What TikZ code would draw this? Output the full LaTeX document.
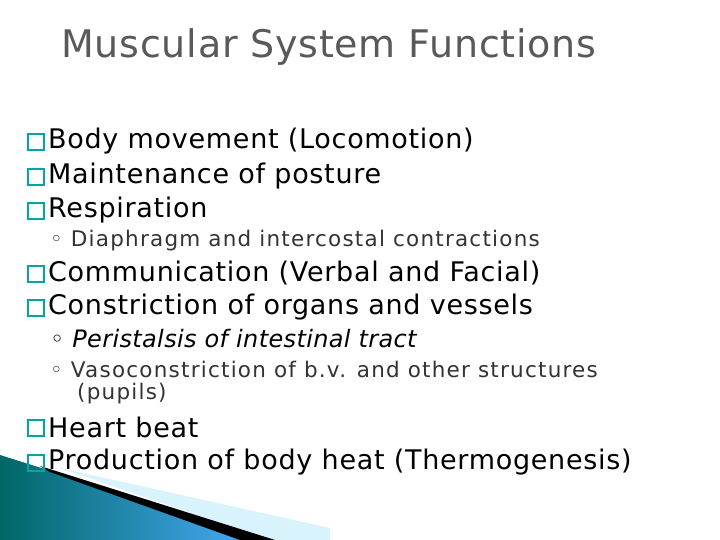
\documentclass[tikz,border=0pt]{standalone}
\usepackage{fontspec}
\setmainfont{DejaVu Sans}
\newfontfamily\bigf[LetterSpace=2.6]{DejaVu Sans}
\newfontfamily\smallf[LetterSpace=5.7]{DejaVu Sans}
\newfontfamily\itf[LetterSpace=1.5]{DejaVu Sans}
\newfontfamily\titf[LetterSpace=2]{DejaVu Sans}
\begin{document}
\begin{tikzpicture}[x=1pt,y=-1pt,
  big/.style={anchor=west,inner sep=0pt,font=\bigf\fontsize{27}{30}\selectfont},
  small/.style={anchor=west,inner sep=0pt,font=\smallf\fontsize{21.5}{24}\selectfont},
  sq/.style={draw=teal!70!cyan,line width=1.3pt,minimum size=16pt,inner sep=0pt}]
\useasboundingbox (0,0) rectangle (720,540);
\fill[white] (0,0) rectangle (720,540);
% decoration
\fill[cyan!15] (60,468) -- (330,528) -- (330,540) -- (270,540) -- cycle;
\shade[left color=teal!80!black,right color=cyan!55!blue!70] (0,455) -- (270,540) -- (0,540) -- cycle;
\fill[black] (40,466) -- (275,540) -- (240,540) -- (50,472) -- cycle;
% title
\node[anchor=west,inner sep=0pt,font=\titf\fontsize{38}{42}\selectfont,text=black!65] (t) at (61,47) {Muscular System Functions};
% bullets
\foreach \y/\n/\t in {141/b1/Body movement (Locomotion),176/b2/Maintenance of posture,210/b3/Respiration,273/b4/Communication (Verbal and Facial),307/b5/Constriction of organs and vessels,427/b6/Heart beat,462/b7/Production of body heat (Thermogenesis)}{
  \node[sq] (s\n) at (36,\y+1) {};
  \node[big] (\n) at (48,\y) {\t};
}
\node[small,text=black!80] (c1) at (50,241) {◦ Diaphragm and intercostal contractions};
\node[anchor=west,inner sep=0pt,font=\itf\fontsize{24}{26}\selectfont\itshape] (c2) at (50,339) {◦ Peristalsis of intestinal tract};
\node[small,text=black!80] (c3) at (50,369) {◦ Vasoconstriction of b.v. and other structures};
\node[small,text=black!80] (c4) at (77,394) {(pupils)};
\end{tikzpicture}
\end{document}
